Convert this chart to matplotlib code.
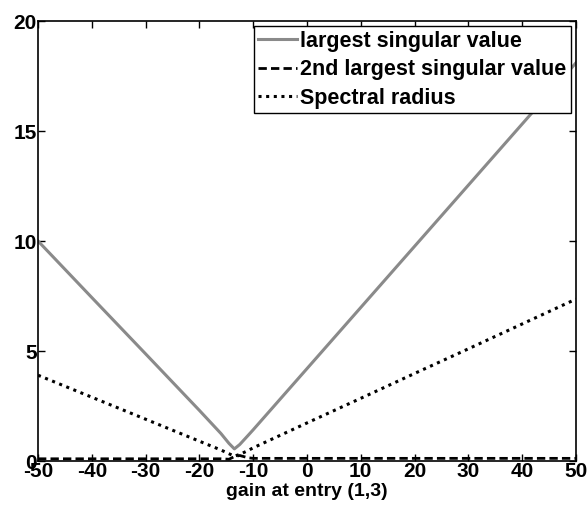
import matplotlib
matplotlib.use("Agg")
import matplotlib.pyplot as plt
import numpy as np

gain = [-50, -40, -30, -20, -16, -14.5, -13.5, -12.5, -11, -10, 0, 10, 20, 30, 40, 50]
largest_sv = [10.0, 7.43, 4.87, 2.3, 1.25, 0.8, 0.55, 0.75, 1.15, 1.42, 4.2, 6.98, 9.76, 12.54, 15.32, 18.1]
second_sv = [0.1, 0.1, 0.1, 0.1, 0.1, 0.08, 0.2, 0.25, 0.15, 0.12, 0.12, 0.12, 0.12, 0.12, 0.12, 0.12]
spectral = [3.9, 2.9, 1.9, 0.9, 0.5, 0.33, 0.22, 0.3, 0.47, 0.6, 1.73, 2.85, 3.98, 5.1, 6.23, 7.36]

plt.rcParams['font.family'] = ['Liberation Sans', 'DejaVu Sans']
plt.rcParams['font.weight'] = 'bold'
plt.rcParams['axes.unicode_minus'] = False

fig = plt.figure(figsize=(5.88, 5.11), dpi=100)
ax = fig.add_axes([38/588, 1 - 461/511, (576-38)/588, (461-21)/511])

ax.plot(gain, largest_sv, color='#8a8a8a', lw=2.2, label='largest singular value')
ax.plot(gain, second_sv, color='black', lw=2.0, ls=(0, (3, 1.5)), label='2nd largest singular value')
ax.plot(gain, spectral, color='black', lw=2.2, ls=(0, (1, 1.5)), label='Spectral radius')

ax.set_xlim(-50, 50)
ax.set_ylim(0, 20)
ax.set_xticks(np.arange(-50, 51, 10))
ax.set_yticks([0, 5, 10, 15, 20])
ax.tick_params(direction='in', top=True, right=True, labelsize=15, length=5, width=1, pad=1)
for lab in ax.get_xticklabels() + ax.get_yticklabels():
    lab.set_fontweight('bold')
ax.set_xlabel('gain at entry (1,3)', fontsize=14, fontweight='bold', labelpad=1)
for s in ax.spines.values():
    s.set_linewidth(1.2)

leg = ax.legend(loc='upper right', fontsize=15.5, frameon=True, fancybox=False,
                edgecolor='black', framealpha=1, handlelength=1.8, handletextpad=0.15,
                borderpad=0.2, labelspacing=0.35, borderaxespad=0.25)
leg.get_frame().set_linewidth(1.0)
for t in leg.get_texts():
    t.set_fontweight('bold')

fig.savefig('out.png', dpi=100)
